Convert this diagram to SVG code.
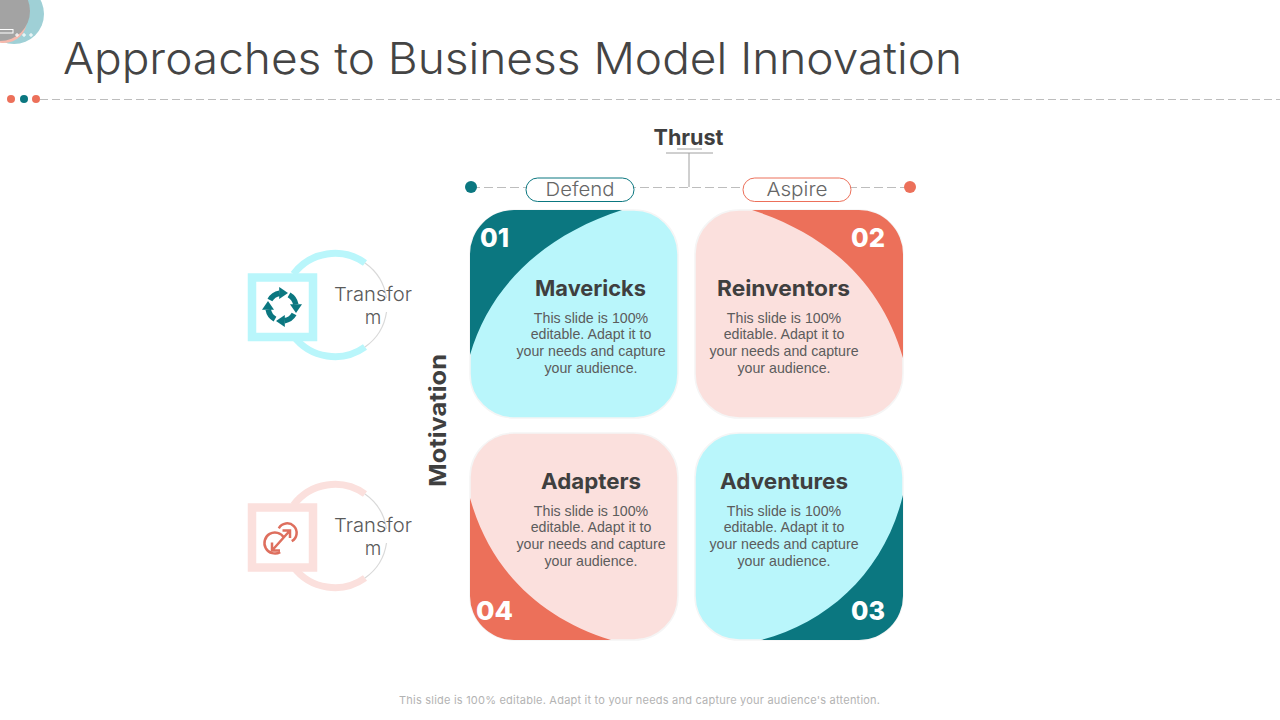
<svg xmlns="http://www.w3.org/2000/svg" xmlns:xlink="http://www.w3.org/1999/xlink" width="1280" height="720" viewBox="0 0 1280 720">
<style>
text{font-family:"Inter","Open Sans","Liberation Sans",sans-serif}
.head{font-size:22px;font-weight:700;fill:#3f3f3f;text-anchor:middle}
.num{font-size:26px;font-weight:800;fill:#fff}
.body{font-family:"Liberation Sans",Arial,sans-serif;font-size:14.200px;fill:#5c5c5c;text-anchor:middle}
.side{font-size:19px;font-weight:300;fill:#5a5a5a;text-anchor:middle}
.pill{font-size:19px;font-weight:300;fill:#666;text-anchor:middle}
.card{stroke:#f5f5f5;stroke-width:1.500}
.dash{stroke:#bdbdbd;stroke-width:1.200;stroke-dasharray:9 4;fill:none}
.thin{stroke:#d9d9d9;stroke-width:1.200;fill:none}
.grey{stroke:#a0a0a0;stroke-width:1;fill:none}
</style>
<defs>
<g id="cyc"><path d="M-12.100-7A14 14 0 0 1-2.400-13.800" fill="none" stroke="#0b7780" stroke-width="5.500"/><polygon points="-2.800,-20 -2.800,-8 6,-14" fill="#0b7780"/></g>
</defs>
<rect width="1280" height="720" fill="#fff"/>
<g id="decor">
<circle cx="14" cy="14" r="30" fill="#9fd0d6"/>
<circle cx="4" cy="20" r="23" fill="#f6b9ad"/>
<circle cx="0" cy="11" r="30" fill="#a3a3a3"/>
<rect x="-4" y="29.500" width="17" height="3.500" fill="none" stroke="#fff" stroke-width="1"/>
<path d="M15 35h4M17 33v4M22 35h4M24 33v4M29 35h4M31 33v4" stroke="#fff" stroke-width="1"/>
</g>
<text id="title" x="63" y="74" font-size="44" font-weight="300" fill="#444" textLength="899" lengthAdjust="spacingAndGlyphs">Approaches to Business Model Innovation</text>
<g id="rule">
<line class="dash" x1="40" y1="99.500" x2="1280" y2="99.500" style="stroke-dasharray:8 4;stroke-width:1"/>
<circle cx="11" cy="99" r="4" fill="#ec705a"/><circle cx="24" cy="99" r="4" fill="#0b7780"/><circle cx="36" cy="99" r="4" fill="#ec705a"/>
</g>
<g id="connectors">
<line class="dash" x1="471" y1="187.500" x2="910" y2="187.500"/>
<path class="grey" d="M677 149H702M666 153H713M689 153V187"/>
</g>
<g id="thrust"><text x="688.500" y="145" font-size="22" font-weight="700" fill="#3f3f3f" text-anchor="middle" textLength="70" lengthAdjust="spacingAndGlyphs">Thrust</text></g>
<g id="motivation"><text transform="translate(446 420.500) rotate(-90)" font-size="23" font-weight="700" fill="#3f3f3f" text-anchor="middle" textLength="133" lengthAdjust="spacingAndGlyphs">Motivation</text></g>
<g id="defend"><circle cx="471" cy="187" r="6" fill="#0b7780"/><rect x="526" y="178" width="108" height="23.500" rx="11.700" fill="#fff" stroke="#0b7780"/><text class="pill" x="580" y="196" textLength="69" lengthAdjust="spacingAndGlyphs">Defend</text></g>
<g id="aspire"><circle cx="910" cy="187" r="6" fill="#ec705a"/><rect x="743" y="178" width="108" height="23.500" rx="11.700" fill="#fff" stroke="#ec705a"/><text class="pill" x="797" y="196" textLength="61" lengthAdjust="spacingAndGlyphs">Aspire</text></g>

<g id="card1">
<rect class="card" x="470" y="210" width="208" height="208" rx="44" fill="#b9f6fb"/>
<path d="M622 210H514A44 44 0 0 0 470 254V355C490 285 545 235 622 210Z" fill="#0b7780"/>
<text class="num" x="480" y="247" textLength="29" lengthAdjust="spacingAndGlyphs">01</text>
<text class="head" x="590.500" y="296" textLength="111" lengthAdjust="spacingAndGlyphs">Mavericks</text>
<text class="body"><tspan x="591" y="323">This slide is 100%</tspan><tspan x="591" y="339">editable. Adapt it to</tspan><tspan x="591" y="356">your needs and capture</tspan><tspan x="591" y="373">your audience.</tspan></text>
</g>
<g id="card2">
<rect class="card" x="695" y="210" width="208" height="208" rx="44" fill="#fbe0dd"/>
<path d="M752 210H859A44 44 0 0 1 903 254V358C882 285 830 235 752 210Z" fill="#ec705a"/>
<text class="num" x="851" y="247" textLength="34" lengthAdjust="spacingAndGlyphs">02</text>
<text class="head" x="783.500" y="296" textLength="133" lengthAdjust="spacingAndGlyphs">Reinventors</text>
<text class="body"><tspan x="784" y="323">This slide is 100%</tspan><tspan x="784" y="339">editable. Adapt it to</tspan><tspan x="784" y="356">your needs and capture</tspan><tspan x="784" y="373">your audience.</tspan></text>
</g>
<g id="card4">
<rect class="card" x="470" y="433" width="208" height="207" rx="44" fill="#fbe0dd"/>
<path d="M470 498V596A44 44 0 0 0 514 640H611C540 618 490 570 470 498Z" fill="#ec705a"/>
<text class="num" x="476" y="620" textLength="37" lengthAdjust="spacingAndGlyphs">04</text>
<text class="head" x="591" y="489" textLength="100" lengthAdjust="spacingAndGlyphs">Adapters</text>
<text class="body"><tspan x="591" y="516">This slide is 100%</tspan><tspan x="591" y="532">editable. Adapt it to</tspan><tspan x="591" y="549">your needs and capture</tspan><tspan x="591" y="566">your audience.</tspan></text>
</g>
<g id="card3">
<rect class="card" x="695" y="433" width="208" height="207" rx="44" fill="#b9f6fb"/>
<path d="M903 495V596A44 44 0 0 1 859 640H761C830 622 885 570 903 495Z" fill="#0b7780"/>
<text class="num" x="851" y="620" textLength="34" lengthAdjust="spacingAndGlyphs">03</text>
<text class="head" x="784" y="489" textLength="128" lengthAdjust="spacingAndGlyphs">Adventures</text>
<text class="body"><tspan x="784" y="516">This slide is 100%</tspan><tspan x="784" y="532">editable. Adapt it to</tspan><tspan x="784" y="549">your needs and capture</tspan><tspan x="784" y="566">your audience.</tspan></text>
</g>

<g id="transform1">
<path d="M293.500 274A51.800 51.800 0 0 1 365 263M293.500 336A51.800 51.800 0 0 0 365 347" fill="none" stroke="#b9f6fb" stroke-width="7"/>
<path class="thin" d="M365 263A51.800 51.800 0 0 1 386.500 298M386.500 312A51.800 51.800 0 0 1 365 347"/>
<rect x="252" y="277.500" width="61" height="59.500" fill="#fff" stroke="#b9f6fb" stroke-width="8.500"/>
<g transform="translate(282 307)"><use xlink:href="#cyc" href="#cyc"/><use xlink:href="#cyc" href="#cyc" transform="rotate(90)"/><use xlink:href="#cyc" href="#cyc" transform="rotate(180)"/><use xlink:href="#cyc" href="#cyc" transform="rotate(270)"/></g>
<text class="side"><tspan x="373" y="301" textLength="78" lengthAdjust="spacingAndGlyphs">Transfor</tspan><tspan x="373" y="324">m</tspan></text>
</g>
<g id="transform2">
<path d="M293.500 505A51.800 51.800 0 0 1 365 494M293.500 567A51.800 51.800 0 0 0 365 578" fill="none" stroke="#fbe0dd" stroke-width="7"/>
<path class="thin" d="M365 494A51.800 51.800 0 0 1 386.500 529M386.500 543A51.800 51.800 0 0 1 365 578"/>
<rect x="252" y="507.500" width="61" height="60" fill="#fff" stroke="#fbe0dd" stroke-width="8.500"/>
<g fill="none" stroke="#de6f5e" stroke-width="2.500">
<path d="M284 537.700A10.500 10.500 0 1 0 280.200 552.100"/>
<path d="M278.800 528.300A9.500 9.500 0 1 1 291.700 541.200"/>
<path d="M272.500 550L289.500 531M282.500 530.500H290V538M272 542.500V550.500H280"/>
</g>
<text class="side"><tspan x="373" y="532" textLength="78" lengthAdjust="spacingAndGlyphs">Transfor</tspan><tspan x="373" y="555">m</tspan></text>
</g>
<text id="footer" x="399" y="704" font-size="11" fill="#b3b3b3" textLength="481" lengthAdjust="spacing">This slide is 100% editable. Adapt it to your needs and capture your audience's attention.</text>
</svg>
